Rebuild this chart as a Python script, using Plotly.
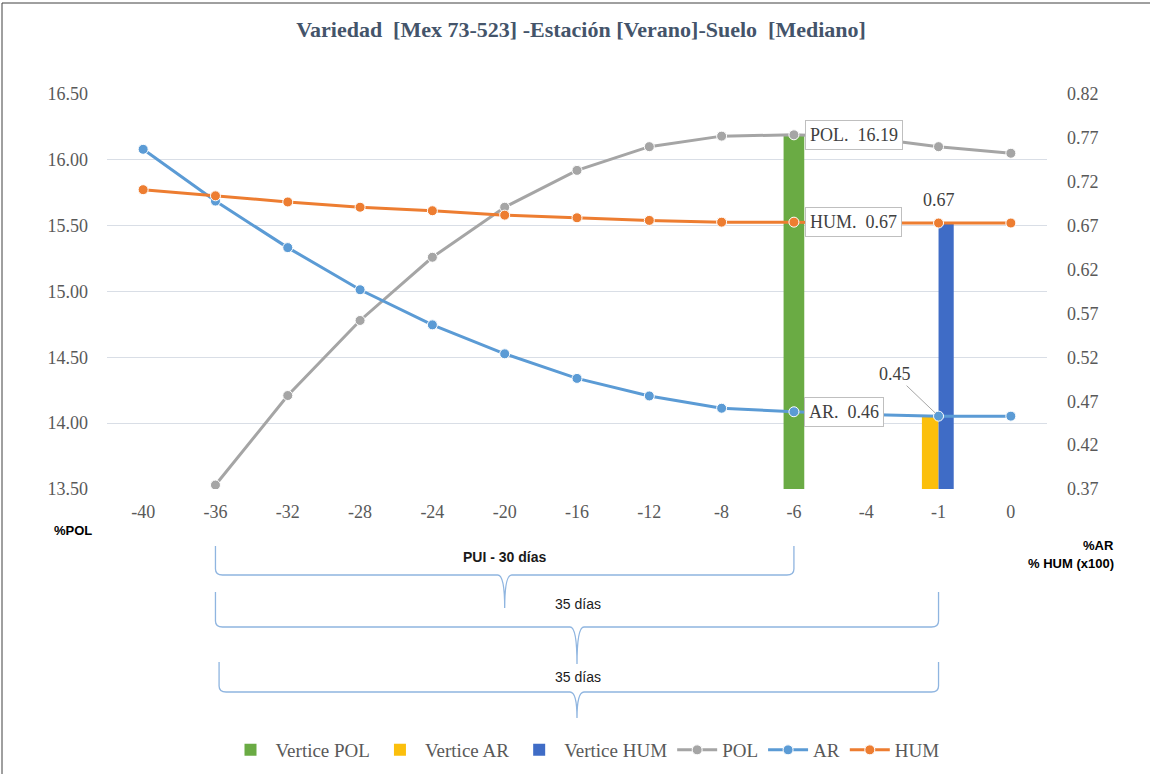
import plotly.graph_objects as go

# ---------------- data ----------------
categories = ['-40', '-36', '-32', '-28', '-24', '-20', '-16', '-12', '-8', '-6', '-4', '-1', '0']
pol = [None, 13.53, 14.21, 14.78, 15.26, 15.64, 15.92, 16.10, 16.18, 16.19, 16.17, 16.10, 16.05]
ar = [0.757, 0.698, 0.645, 0.597, 0.557, 0.524, 0.496, 0.476, 0.462, 0.458, 0.455, 0.453, 0.453]
hum = [0.711, 0.704, 0.697, 0.691, 0.687, 0.682, 0.679, 0.676, 0.674, 0.674, 0.673, 0.673, 0.673]

vertice_pol_x = ['-6']
vertice_pol_y = [16.19]
vertice_ar_x = ['-1']
vertice_ar_y = [0.453]
vertice_hum_x = ['-1']
vertice_hum_y = [0.673]

left_ticks = [13.5, 14.0, 14.5, 15.0, 15.5, 16.0, 16.5]
right_ticks = [0.37, 0.42, 0.47, 0.52, 0.57, 0.62, 0.67, 0.72, 0.77, 0.82]

# braces: (start category, end category, label)
braces = [('-36', '-6', 'PUI - 30 días'), ('-36', '-1', '35 días'), ('-36', '-1', '35 días')]

title_text = 'Variedad\u00a0 [Mex 73-523] -Estación [Verano]-Suelo\u00a0 [Mediano]'

# ---------------- styling ----------------
W, H = 1150, 774
L, R, T, B = 107, 1047, 94, 489  # plot-area pixel box
SERIF = 'Liberation Serif'
SANS = 'Liberation Sans'
TICK_COLOR = '#595959'

def px_x(p):
    return (p - L) / (R - L)

def px_y(p):
    return (B - p) / (B - T)

def idx(c):
    return categories.index(c)

def cat_paper(c, shift=0.0):
    return (idx(c) + shift + 0.5) / len(categories)

fig = go.Figure()

fig.add_trace(go.Bar(name='Vertice POL', x=vertice_pol_x, y=vertice_pol_y, yaxis='y',
                     width=0.286, offset=-0.143, marker=dict(color='#6AAB44', line=dict(width=0))))
fig.add_trace(go.Bar(name='Vertice AR', x=vertice_ar_x, y=vertice_ar_y, yaxis='y2',
                     width=0.23, offset=-0.23, marker=dict(color='#FBBF0C', line=dict(width=0))))
fig.add_trace(go.Bar(name='Vertice HUM', x=vertice_hum_x, y=vertice_hum_y, yaxis='y2',
                     width=0.21, offset=0.0, marker=dict(color='#3F6CC6', line=dict(width=0))))

def line_trace(name, y, color, axis):
    return go.Scatter(name=name, x=categories, y=y, yaxis=axis, mode='lines+markers',
                      line=dict(color=color, width=3),
                      marker=dict(color=color, size=10, line=dict(color='white', width=1)),
                      connectgaps=False)

fig.add_trace(line_trace('POL', pol, '#A5A5A5', 'y'))
fig.add_trace(line_trace('AR', ar, '#5B9BD5', 'y2'))
fig.add_trace(line_trace('HUM', hum, '#ED7D31', 'y2'))

annotations = []
box = dict(bordercolor='#BFBFBF', borderwidth=1, borderpad=4, bgcolor='white')
lab_font = dict(family=SERIF, size=18, color='#404040')

i6 = idx('-6')
i1 = idx('-1')
annotations.append(dict(x=i6, y=pol[i6], xref='x', yref='y', text='POL.\u00a0 %.2f' % pol[i6],
                        showarrow=False, xanchor='left', yanchor='middle', xshift=11,
                        font=lab_font, **box))
annotations.append(dict(x=i6, y=hum[i6], xref='x', yref='y2', text='HUM.\u00a0 %.2f' % hum[i6],
                        showarrow=False, xanchor='left', yanchor='middle', xshift=11,
                        font=lab_font, **box))
annotations.append(dict(x=i6, y=ar[i6], xref='x', yref='y2', text='AR.\u00a0 %.2f' % ar[i6],
                        showarrow=False, xanchor='left', yanchor='middle', xshift=10,
                        font=lab_font, **box))
annotations.append(dict(x=i1, y=vertice_hum_y[0], xref='x', yref='y2', text='%.2f' % vertice_hum_y[0],
                        showarrow=False, xanchor='center', yanchor='middle', yshift=23,
                        font=lab_font))
annotations.append(dict(x=i1, y=vertice_ar_y[0], xref='x', yref='y2', text='%.2f' % vertice_ar_y[0],
                        showarrow=True, arrowhead=0, arrowwidth=1, arrowcolor='#A6A6A6',
                        ax=-44, ay=-42, standoff=4, font=lab_font))

# axis side labels
side_font = dict(family=SANS, size=13, color='#000000')
annotations.append(dict(x=px_x(73), y=px_y(530), xref='paper', yref='paper', text='<b>%POL</b>',
                        showarrow=False, xanchor='center', yanchor='middle', font=side_font))
annotations.append(dict(x=px_x(1116), y=px_y(545), xref='paper', yref='paper', text='<b>%AR</b>',
                        showarrow=False, xanchor='right', yanchor='middle', font=side_font))
annotations.append(dict(x=px_x(1116), y=px_y(563), xref='paper', yref='paper', text='<b>% HUM (x100)</b>',
                        showarrow=False, xanchor='right', yanchor='middle', font=side_font))

# braces
shapes = []
brace_geom = [  # (top, horizontal, tip, label y, start shift, label bold)
    (546, 575, 608, 557, 0.0, True),
    (592, 627, 664, 604, 0.0, False),
    (662, 692, 718, 677, 0.05, False),
]
rx = 7 / (R - L)
for (c0, c1, label), (yt, yh, ytip, ylab, sh, bold) in zip(braces, brace_geom):
    x1 = cat_paper(c0, sh)
    x2 = cat_paper(c1)
    xc = (cat_paper(c0) + x2) / 2
    ytp, yhp, ytipp = px_y(yt), px_y(yh), px_y(ytip)
    ry = 6 / (B - T)
    path = (f'M {x1},{ytp} L {x1},{yhp + ry} Q {x1},{yhp} {x1 + rx},{yhp} '
            f'L {xc - rx},{yhp} Q {xc},{yhp} {xc},{ytipp} '
            f'M {xc},{ytipp} Q {xc},{yhp} {xc + rx},{yhp} '
            f'L {x2 - rx},{yhp} Q {x2},{yhp} {x2},{yhp + ry} L {x2},{ytp}')
    shapes.append(dict(type='path', path=path, xref='paper', yref='paper',
                       line=dict(color='#8FB5E0', width=1.3)))
    txt = f'<b>{label}</b>' if bold else label
    lx = xc if bold else xc + 0.001
    annotations.append(dict(x=lx, y=px_y(ylab), xref='paper', yref='paper', text=txt,
                            showarrow=False, xanchor='center', yanchor='middle',
                            font=dict(family=SANS, size=14, color='#1a1a1a')))

# outer frame (left and top edges visible)
shapes.append(dict(type='line', xref='paper', yref='paper', x0=px_x(2), x1=px_x(2),
                   y0=px_y(3), y1=px_y(800), line=dict(color='#404040', width=1)))
shapes.append(dict(type='line', xref='paper', yref='paper', x0=px_x(2), x1=px_x(1200),
                   y0=px_y(3), y1=px_y(3), line=dict(color='#404040', width=1)))

fig.update_layout(
    width=W, height=H,
    margin=dict(l=L, r=W - R, t=T, b=H - B, pad=0, autoexpand=False),
    paper_bgcolor='white', plot_bgcolor='white',
    barmode='overlay',
    title=dict(text=f'<b>{title_text}</b>', x=581 / W, xanchor='center', y=1 - 29 / H, yanchor='middle',
               font=dict(family=SERIF, size=22, color='#44546A')),
    xaxis=dict(type='category', categoryorder='array', categoryarray=categories,
               range=[-0.5, len(categories) - 0.5], automargin=False,
               showgrid=False, showline=False, zeroline=False, ticks='',
               tickfont=dict(family=SERIF, size=18, color=TICK_COLOR), ticklabelstandoff=10),
    yaxis=dict(range=[left_ticks[0], left_ticks[-1]], tickvals=left_ticks, tickformat='.2f',
               automargin=False,
               showgrid=True, gridcolor='#D9DEE6', gridwidth=1, zeroline=False, showline=False,
               ticks='', tickfont=dict(family=SERIF, size=18, color=TICK_COLOR), ticklabelstandoff=18),
    yaxis2=dict(range=[right_ticks[0], right_ticks[-1]], tickvals=right_ticks, tickformat='.2f',
                automargin=False,
                overlaying='y', side='right', showgrid=False, zeroline=False, showline=False,
                ticks='', tickfont=dict(family=SERIF, size=18, color=TICK_COLOR), ticklabelstandoff=19),
    legend=dict(orientation='h', x=px_x(585), xanchor='center', y=px_y(750), yanchor='middle',
                font=dict(family=SERIF, size=19, color=TICK_COLOR), traceorder='normal',
                itemwidth=40, bgcolor='rgba(0,0,0,0)'),
    annotations=annotations,
    shapes=shapes,
    showlegend=True,
)

fig.write_html('out.html', config={'displayModeBar': False},
               post_script="document.body.style.margin='0px';document.body.style.overflow='hidden';")
